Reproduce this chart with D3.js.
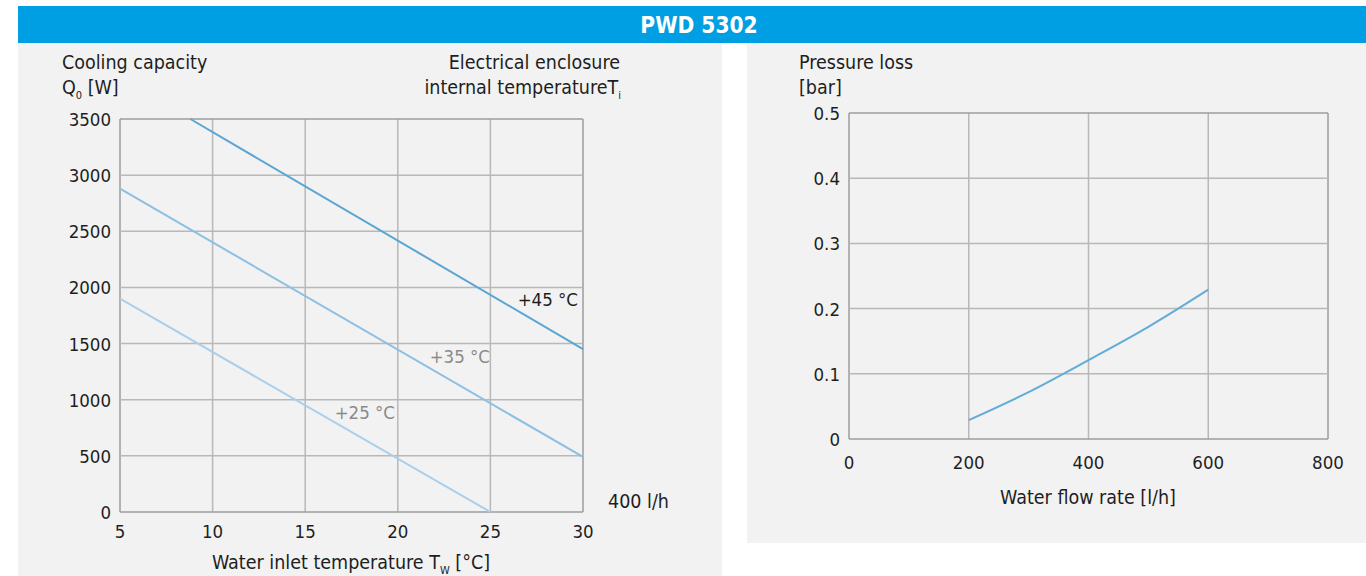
<!DOCTYPE html>
<html><head><meta charset="utf-8">
<script src="https://cdn.jsdelivr.net/npm/d3@7"></script>
<style>
html,body{margin:0;padding:0;background:#fff;}
svg text{font-family:"Liberation Sans Narrow","DejaVu Sans Condensed",sans-serif;}
</style></head>
<body><svg id="c" width="1366" height="576"></svg>
<script>
// ---- data ----
const title = "PWD 5302";
const tempTicks = [5, 10, 15, 20, 25, 30];
const capacityTicks = [0, 500, 1000, 1500, 2000, 2500, 3000, 3500];
const seriesNames = ["+45 °C", "+35 °C", "+25 °C"];
const series45Temp = [8.8, 30];
const series45Cap = [3500, 1450];
const series35Temp = [5, 30];
const series35Cap = [2880, 490];
const series25Temp = [5, 25];
const series25Cap = [1900, 0];
const flowTicks = [0, 200, 400, 600, 800];
const pressureTicks = [0, 0.1, 0.2, 0.3, 0.4, 0.5];
const flowRate = [200, 300, 400, 500, 600];
const pressureLoss = [0.029, 0.072, 0.121, 0.172, 0.229];

const svg = d3.select("#c");
const FONT = 19.5, TICK = 18.5;
const dark = "#1e1e1e", grey = "#8a8a8a", gridC = "#b8b8b8", frameC = "#9c9c9c";

// backgrounds
svg.append("rect").attr("x",18).attr("y",43).attr("width",704).attr("height",533).attr("fill","#f2f2f2");
svg.append("rect").attr("x",747).attr("y",43).attr("width",619).attr("height",500).attr("fill","#f2f2f2");
svg.append("rect").attr("x",18).attr("y",6).attr("width",1348).attr("height",37).attr("fill","#009fe3");
svg.append("text").attr("x",699).attr("y",33).attr("text-anchor","middle").attr("fill","#fff")
  .attr("font-size",22.5).attr("font-weight","bold").text(title);

function txt(x,y,s,anchor,color,size){
  return svg.append("text").attr("x",x).attr("y",y).attr("text-anchor",anchor||"start")
    .attr("fill",color||dark).attr("font-size",size||FONT).text(s);
}
function txtSub(x,y,main,sub,rest,anchor){
  const t = svg.append("text").attr("x",x).attr("y",y).attr("text-anchor",anchor||"start")
    .attr("fill",dark).attr("font-size",FONT);
  t.append("tspan").text(main);
  t.append("tspan").attr("font-size",11).attr("dy",5).text(sub);
  if(rest) t.append("tspan").attr("dy",-5).text(rest);
  return t;
}

// ---- left chart ----
const xL = d3.scaleLinear().domain([5,30]).range([120,583]);
const yL = d3.scaleLinear().domain([0,3500]).range([512,119]);
const gL = svg.append("g");
gL.selectAll(".vx").data(tempTicks).join("line")
  .attr("x1",d=>xL(d)).attr("x2",d=>xL(d)).attr("y1",yL(0)).attr("y2",yL(3500))
  .attr("stroke",(d,i)=> (i===0||i===tempTicks.length-1)?frameC:gridC).attr("stroke-width",1.5);
gL.selectAll(".hy").data(capacityTicks).join("line")
  .attr("x1",xL(5)).attr("x2",xL(30)).attr("y1",d=>yL(d)).attr("y2",d=>yL(d))
  .attr("stroke",(d,i)=> (i===0||i===capacityTicks.length-1)?frameC:gridC).attr("stroke-width",1.5);
gL.selectAll(".yl").data(capacityTicks).join("text")
  .attr("x",111).attr("y",d=>yL(d)+7).attr("text-anchor","end").attr("fill",dark).attr("font-size",TICK).text(d=>d);
gL.selectAll(".xl").data(tempTicks).join("text")
  .attr("x",d=>xL(d)).attr("y",538).attr("text-anchor","middle").attr("fill",dark).attr("font-size",TICK).text(d=>d);

const lineL = d3.line().x(d=>xL(d[0])).y(d=>yL(d[1]));
const sL = [
  {t:series45Temp,c:series45Cap,color:"#5aa5d4"},
  {t:series35Temp,c:series35Cap,color:"#8dbfe3"},
  {t:series25Temp,c:series25Cap,color:"#a9cfec"}
];
sL.forEach(s=>{
  gL.append("path").attr("d",lineL(d3.zip(s.t,s.c))).attr("fill","none")
    .attr("stroke",s.color).attr("stroke-width",2);
});
txt(578,306,seriesNames[0],"end",dark,TICK);
txt(490,363,seriesNames[1],"end",grey,TICK);
txt(395,419,seriesNames[2],"end",grey,TICK);
txt(608,508,"400 l/h","start",dark);

txt(62,69,"Cooling capacity");
txtSub(62,94,"Q","0"," [W]");
txt(620,69,"Electrical enclosure","end");
txtSub(621,94,"internal temperatureT","i",null,"end");
txtSub(212,569,"Water inlet temperature T","W"," [°C]");

// ---- right chart ----
const xR = d3.scaleLinear().domain([0,800]).range([849,1328]);
const yR = d3.scaleLinear().domain([0,0.5]).range([439,113]);
const gR = svg.append("g");
gR.selectAll(".vx").data(flowTicks).join("line")
  .attr("x1",d=>xR(d)).attr("x2",d=>xR(d)).attr("y1",yR(0)).attr("y2",yR(0.5))
  .attr("stroke",(d,i)=> (i===0||i===flowTicks.length-1)?frameC:gridC).attr("stroke-width",1.5);
gR.selectAll(".hy").data(pressureTicks).join("line")
  .attr("x1",xR(0)).attr("x2",xR(800)).attr("y1",d=>yR(d)).attr("y2",d=>yR(d))
  .attr("stroke",(d,i)=> (i===0||i===pressureTicks.length-1)?frameC:gridC).attr("stroke-width",1.5);
gR.selectAll(".yl").data(pressureTicks).join("text")
  .attr("x",840).attr("y",d=>yR(d)+7).attr("text-anchor","end").attr("fill",dark).attr("font-size",TICK).text(d=>d);
gR.selectAll(".xl").data(flowTicks).join("text")
  .attr("x",d=>xR(d)).attr("y",469).attr("text-anchor","middle").attr("fill",dark).attr("font-size",TICK).text(d=>d);
const lineR = d3.line().x(d=>xR(d[0])).y(d=>yR(d[1])).curve(d3.curveMonotoneX);
gR.append("path").attr("d",lineR(d3.zip(flowRate,pressureLoss))).attr("fill","none")
  .attr("stroke","#62acd8").attr("stroke-width",2);
txt(799,69,"Pressure loss");
txt(799,94,"[bar]");
txt(1088,504,"Water flow rate [l/h]","middle");
</script></body></html>
